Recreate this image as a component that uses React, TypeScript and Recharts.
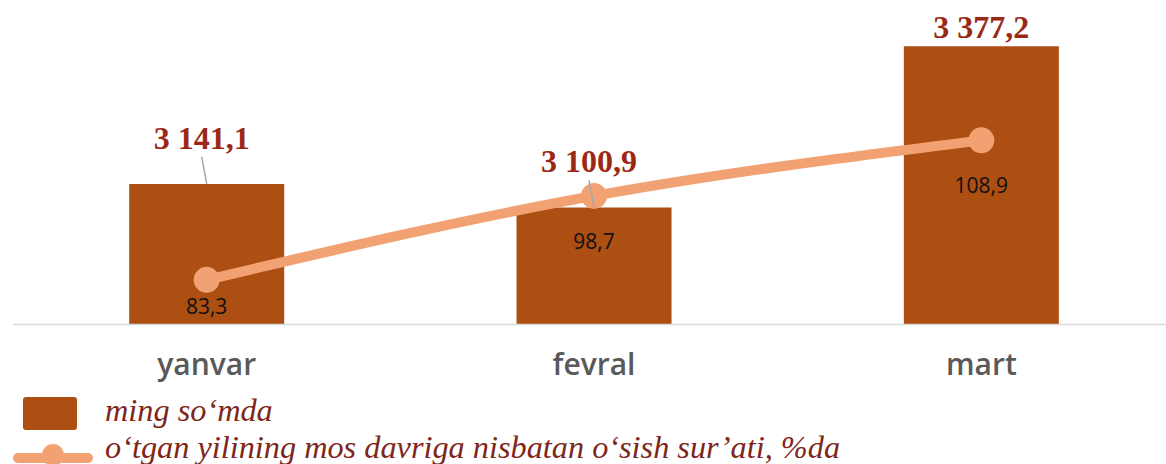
import { ComposedChart, Bar, Line, XAxis, YAxis, LabelList } from "recharts";

// monthly totals, ming so'mda
const months = ["yanvar", "fevral", "mart"];
const amounts = [3141.1, 3100.9, 3377.2];
// growth vs same period of previous year, %
const growthPct = [83.3, 98.7, 108.9];

const data = months.map((m, i) => ({ month: m, amount: amounts[i], growth: growthPct[i] }));

const BAR = "#AD4E12";
const LINE = "#F2A272";
const LABEL_RED = "#9B2816";
const LEGEND_RED = "#7E2619";

/** 3141.1 -> "3 141,1" */
function fmt(v: number) {
  const [int, dec] = v.toFixed(1).split(".");
  return int.replace(/\B(?=(\d{3})+(?!\d))/g, " ") + "," + dec;
}

function BarTopLabel(props: any) {
  const { x, y, width, value } = props;
  const cx = x + width / 2;
  const ty = Math.max(y - 46, 27);
  const leader = y - ty > 30;
  const lx = leader ? cx - 5 : cx;
  return (
    <g>
      {leader && <line x1={lx} y1={ty + 19} x2={cx} y2={y} stroke="#a6a6a6" strokeWidth={1.5} />}
      <text
        x={lx}
        y={ty}
        textAnchor="middle"
        dominantBaseline="central"
        fill={LABEL_RED}
        fontFamily="'Liberation Serif', serif"
        fontWeight={700}
        fontSize={32}
      >
        {fmt(value)}
      </text>
    </g>
  );
}

function PctLabel(props: any) {
  const { x, y, value } = props;
  // keep the label inside the bar, above the baseline
  const ly = Math.min(y + 45, 306);
  return (
    <text
      x={x}
      y={ly}
      textAnchor="middle"
      dominantBaseline="central"
      fill="#111"
      fontFamily="'Open Sans', sans-serif"
      fontWeight={500}
      fontSize={21}
    >
      {String(value).replace(".", ",")}
    </text>
  );
}

export default function App() {
  return (
    <div style={{ position: "fixed", left: 0, top: 0, width: 1166, height: 464, overflow: "hidden", background: "#fff" }}>
      <ComposedChart
        width={1175}
        height={464}
        data={data}
        margin={{ top: 33, right: 0, bottom: 99.5, left: 13 }}
        barCategoryGap="30%"
      >
        <XAxis
          dataKey="month"
          axisLine={{ stroke: "#d9d9d9", strokeWidth: 1.5 }}
          tickLine={false}
          tickSize={0}
          tickMargin={29}
          height={40}
          tick={{ fill: "#595959", fontSize: 30, fontFamily: "'Open Sans', sans-serif", fontWeight: 600 }}
        />
        <YAxis yAxisId="amt" hide domain={[2900, 3400]} />
        <YAxis yAxisId="pct" hide orientation="right" domain={[75.1, 128.6]} />
        <Bar yAxisId="amt" dataKey="amount" fill={BAR} isAnimationActive={false}>
          <LabelList dataKey="amount" content={BarTopLabel} />
        </Bar>
        <Line
          yAxisId="pct"
          type="monotone"
          dataKey="growth"
          stroke={LINE}
          strokeWidth={10}
          dot={{ r: 13, fill: LINE, stroke: "none" }}
          activeDot={false}
          isAnimationActive={false}
        >
          <LabelList dataKey="growth" content={PctLabel} />
        </Line>
      </ComposedChart>

      {/* legend */}
      <div style={{ position: "absolute", left: 23, top: 397, width: 54, height: 33, background: BAR, borderRadius: 3 }} />
      <div
        style={{
          position: "absolute",
          left: 105,
          top: 393,
          lineHeight: "34px",
          fontFamily: "'Liberation Serif', serif",
          fontStyle: "italic",
          fontSize: 32.3,
          color: LEGEND_RED,
          whiteSpace: "nowrap",
        }}
      >
        ming so‘mda
      </div>
      <svg style={{ position: "absolute", left: 0, top: 440 }} width={100} height={24}>
        <line x1={18} y1={18} x2={88} y2={18} stroke={LINE} strokeWidth={10} strokeLinecap="round" />
        <circle cx={53} cy={15} r={11} fill={LINE} />
      </svg>
      <div
        style={{
          position: "absolute",
          left: 105,
          top: 430,
          lineHeight: "34px",
          fontFamily: "'Liberation Serif', serif",
          fontStyle: "italic",
          fontSize: 32.3,
          color: LEGEND_RED,
          whiteSpace: "nowrap",
        }}
      >
        o‘tgan yilining mos davriga nisbatan o‘sish sur’ati, %da
      </div>
    </div>
  );
}
